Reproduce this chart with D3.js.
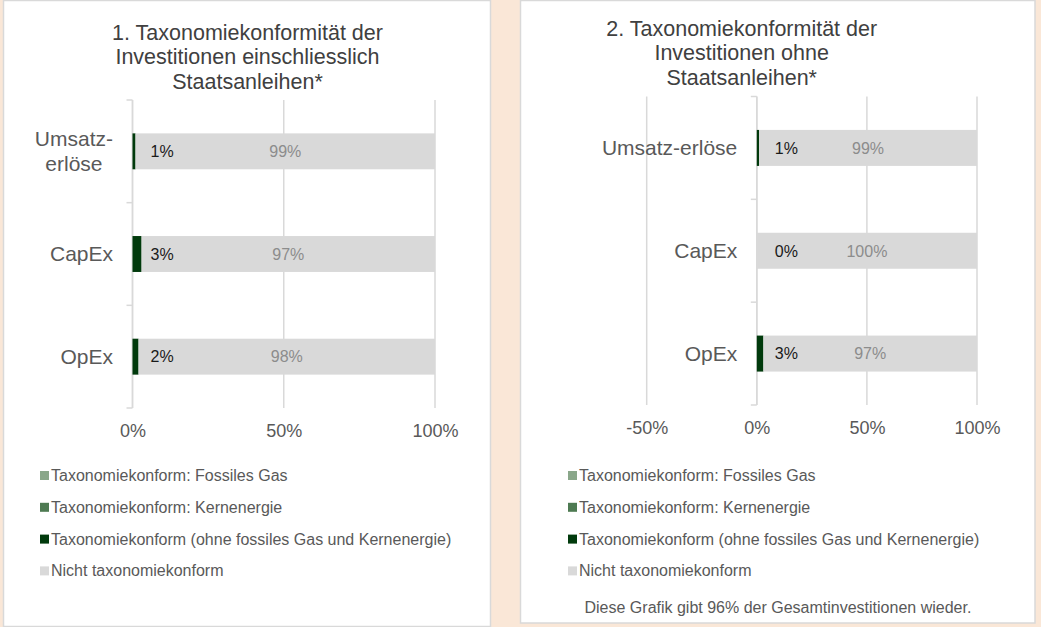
<!DOCTYPE html>
<html>
<head>
<meta charset="utf-8">
<script src="https://cdn.jsdelivr.net/npm/d3@7"></script>
<style>
  body { margin: 0; background: #fae7d7; }
  text { font-family: "Liberation Sans", Arial, sans-serif; }
</style>
</head>
<body>
<svg width="1041" height="627"></svg>
<script>
// categories (line breaks as drawn in each chart)
var categories = ["Umsatz-erlöse", "CapEx", "OpEx"];
var catLines1 = [["Umsatz-", "erlöse"], ["CapEx"], ["OpEx"]];
var catLines2 = [["Umsatz-erlöse"], ["CapEx"], ["OpEx"]];

// chart 1: incl. sovereign bonds (%)
var gas1 = [0, 0, 0];
var nuclear1 = [0, 0, 0];
var aligned1 = [1, 3, 2];
var notAligned1 = [99, 97, 98];

// chart 2: excl. sovereign bonds (%)
var gas2 = [0, 0, 0];
var nuclear2 = [0, 0, 0];
var aligned2 = [1, 0, 3];
var notAligned2 = [99, 100, 97];

var ticks1 = [0, 50, 100];
var ticks2 = [-50, 0, 50, 100];

var seriesKeys = ["gas", "nuclear", "aligned", "not"];
var seriesNames = ["Taxonomiekonform: Fossiles Gas", "Taxonomiekonform: Kernenergie",
  "Taxonomiekonform (ohne fossiles Gas und Kernenergie)", "Nicht taxonomiekonform"];
var seriesColors = ["#8aa78a", "#4e7a52", "#013a0c", "#d9d9d9"];

var svg = d3.select("svg");
svg.append("rect").attr("width", 1041).attr("height", 627).attr("fill", "#fae7d7");

function drawChart(cfg) {
  var g = svg.append("g");
  g.append("rect")
    .attr("x", cfg.panel[0]).attr("y", cfg.panel[1])
    .attr("width", cfg.panel[2]).attr("height", cfg.panel[3])
    .attr("fill", "#fff").attr("stroke", "#d9d9d9").attr("stroke-width", 1.5);

  // title
  var t = g.append("text").attr("text-anchor", "middle")
    .attr("font-size", 21.5).attr("fill", "#404040");
  cfg.title.forEach(function(line, i) {
    t.append("tspan").attr("x", cfg.titleX).attr("y", cfg.titleY + i * 24.3).text(line);
  });

  var x = d3.scaleLinear().domain(cfg.domain).range(cfg.xRange);
  var y = d3.scaleBand().domain(categories).range(cfg.yRange)
    .paddingInner(0.65).paddingOuter(0.325);

  // grid
  g.selectAll(".grid").data(cfg.ticks).enter().append("line")
    .attr("x1", function(d) { return x(d); }).attr("x2", function(d) { return x(d); })
    .attr("y1", cfg.yRange[0]).attr("y2", cfg.yRange[1])
    .attr("stroke", "#d9d9d9").attr("stroke-width", 1.5);

  // x tick labels
  var xAxis = g.append("g").attr("transform", "translate(0," + cfg.yRange[1] + ")")
    .call(d3.axisBottom(x).tickValues(cfg.ticks).tickSize(0).tickPadding(16)
      .tickFormat(function(d) { return d + "%"; }));
  xAxis.select(".domain").remove();
  xAxis.selectAll("text").attr("font-size", 18).attr("fill", "#595959")
    .style("font-family", '"Liberation Sans", Arial, sans-serif');

  // y axis line and boundary ticks
  var x0 = x(0);
  g.append("line").attr("x1", x0).attr("x2", x0)
    .attr("y1", cfg.yRange[0]).attr("y2", cfg.yRange[1])
    .attr("stroke", "#d9d9d9").attr("stroke-width", 1.5);
  var bounds = d3.range(categories.length + 1).map(function(i) {
    return cfg.yRange[0] + i * y.step();
  });
  g.selectAll(".ytick").data(bounds).enter().append("line")
    .attr("x1", x0 - 6).attr("x2", x0)
    .attr("y1", function(d) { return d; }).attr("y2", function(d) { return d; })
    .attr("stroke", "#d9d9d9").attr("stroke-width", 1.5);

  // stacked bars
  var rows = categories.map(function(c, i) {
    return { cat: c, gas: cfg.gas[i], nuclear: cfg.nuclear[i], aligned: cfg.aligned[i], not: cfg.not[i] };
  });
  var stacked = d3.stack().keys(seriesKeys)(rows);
  g.selectAll(".series").data(stacked).enter().append("g")
    .attr("fill", function(d, i) { return seriesColors[i]; })
    .selectAll("rect").data(function(d) { return d; }).enter().append("rect")
    .attr("x", function(d) { return x(d[0]); })
    .attr("width", function(d) { return x(d[1]) - x(d[0]); })
    .attr("y", function(d) { return y(d.data.cat); })
    .attr("height", y.bandwidth());

  // data labels
  rows.forEach(function(r) {
    var cy = y(r.cat) + y.bandwidth() / 2;
    g.append("text").attr("x", x0 + 18).attr("y", cy).attr("dy", "0.36em")
      .attr("font-size", 16).attr("fill", "#1a1a1a").text(r.aligned + "%");
    var s = r.gas + r.nuclear + r.aligned;
    g.append("text").attr("x", (x(s) + x(s + r.not)) / 2).attr("y", cy).attr("dy", "0.36em")
      .attr("text-anchor", "middle").attr("font-size", 16).attr("fill", "#8c8c8c")
      .text(r.not + "%");
  });

  // category labels
  categories.forEach(function(c, i) {
    var lines = cfg.catLines[i];
    var cy = y(c) + y.bandwidth() / 2 + 7.2 - (lines.length - 1) * 12.35;
    var right = x0 - 19.5;
    var txt = g.append("text").attr("font-size", 21).attr("fill", "#595959");
    var spans = lines.map(function(l, j) {
      return txt.append("tspan").attr("y", cy + j * 24.7).text(l);
    });
    var w = d3.max(spans, function(s) { return s.node().getComputedTextLength(); });
    txt.attr("text-anchor", "middle");
    spans.forEach(function(s) { s.attr("x", right - w / 2); });
  });

  // legend
  seriesNames.forEach(function(name, i) {
    var by = cfg.legendY + i * 31.8;
    g.append("rect").attr("x", cfg.legendX).attr("y", by - 10)
      .attr("width", 9).attr("height", 9).attr("fill", seriesColors[i]);
    g.append("text").attr("x", cfg.legendX + 11).attr("y", by)
      .attr("font-size", 16).attr("fill", "#595959").text(name);
  });

  if (cfg.note) {
    g.append("text").attr("x", cfg.note[1]).attr("y", cfg.note[2])
      .attr("font-size", 16).attr("fill", "#595959").text(cfg.note[0]);
  }
}

drawChart({
  panel: [3.5, 0.5, 487, 626],
  title: ["1. Taxonomiekonformität der", "Investitionen einschliesslich", "Staatsanleihen*"],
  titleX: 247.5, titleY: 40,
  domain: [0, 100], xRange: [132.5, 435], yRange: [100, 408], ticks: ticks1,
  catLines: catLines1,
  gas: gas1, nuclear: nuclear1, aligned: aligned1, not: notAligned1,
  legendX: 40, legendY: 481
});

drawChart({
  panel: [520.5, 0.5, 514.5, 622.5],
  title: ["2. Taxonomiekonformität der", "Investitionen ohne", "Staatsanleihen*"],
  titleX: 741.7, titleY: 36,
  domain: [-50, 100], xRange: [646.7, 977], yRange: [96.5, 405], ticks: ticks2,
  catLines: catLines2,
  gas: gas2, nuclear: nuclear2, aligned: aligned2, not: notAligned2,
  legendX: 568, legendY: 481,
  note: ["Diese Grafik gibt 96% der Gesamtinvestitionen wieder.", 584.5, 613]
});
</script>
</body>
</html>
